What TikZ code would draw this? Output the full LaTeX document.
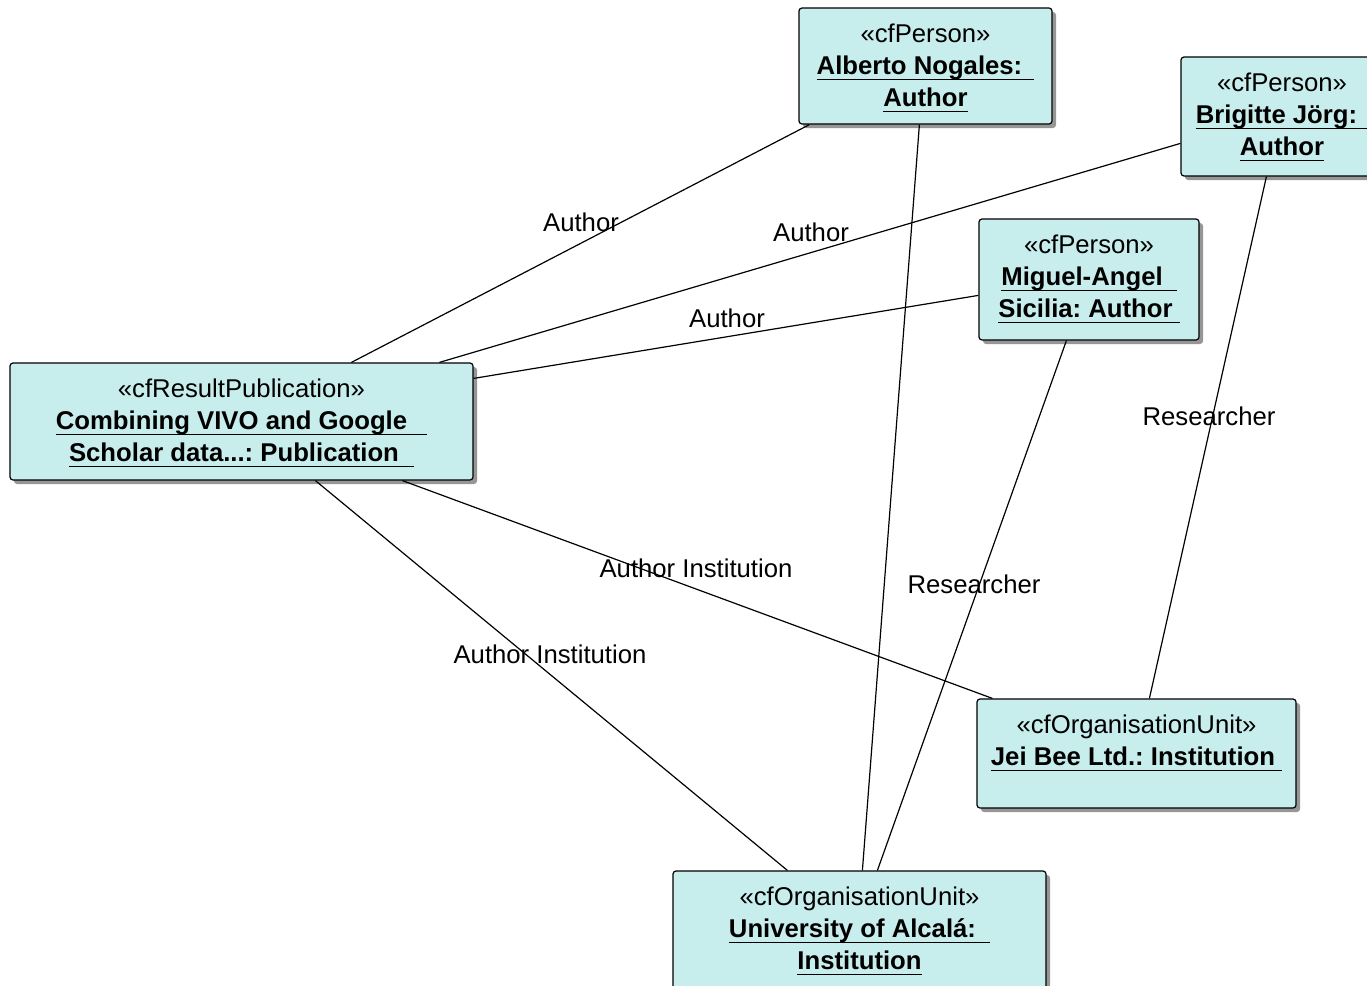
\documentclass[tikz,border=0pt]{standalone}
\usepackage{fontspec}
\setmainfont{Liberation Sans}
\frenchspacing
\usetikzlibrary{calc,shadows}
\definecolor{boxfill}{RGB}{200,237,237}
\definecolor{shadowgray}{RGB}{150,150,150}
\newcommand\ulx[2]{\setbox0\hbox{\bfseries #1\hspace{#2}}\rlap{\rule[-6pt]{\wd0}{1.3pt}}\box0}
\newcommand\firstl{\rule{0pt}{22pt}}
\begin{document}
\begin{tikzpicture}[x=1pt,y=-1pt,
  umlbox/.style={draw=black,line width=1.2pt,fill=boxfill,rounded corners=3pt,
    inner sep=0pt,
    drop shadow={shadow xshift=4pt,shadow yshift=-4pt,fill=shadowgray,opacity=1}},
  boxtext/.style={anchor=north,inner sep=0pt,align=center,
    font=\fontsize{25.7}{32}\selectfont\frenchspacing,yshift=-12.5pt},
  lbl/.style={inner sep=0pt,font=\fontsize{25.7}{32}\selectfont},
  conn/.style={line width=1.2pt,black}]
\useasboundingbox (0,0) rectangle (1367,985);

\node[umlbox,minimum width=253pt,minimum height=116pt] (alb) at (925.5,66) {};
\node[umlbox,minimum width=202pt,minimum height=119pt] (bri) at (1282,116.5) {};
\node[umlbox,minimum width=220pt,minimum height=121pt] (mig) at (1089,279.5) {};
\node[umlbox,minimum width=463pt,minimum height=117pt] (pub) at (241.5,421.5) {};
\node[umlbox,minimum width=319pt,minimum height=109pt] (jei) at (1136.5,753.5) {};
\node[umlbox,minimum width=373pt,minimum height=129pt] (uni) at (859.5,935.5) {};

\node[boxtext] (albt) at (alb.north) {\firstl«cfPerson»\\\ulx{Alberto Nogales:}{12pt}\\\ulx{Author}{0pt}};
\node[boxtext] (brit) at (bri.north) {\firstl«cfPerson»\\\ulx{Brigitte Jörg:}{11pt}\\\ulx{Author}{0pt}};
\node[boxtext] (migt) at (mig.north) {\firstl«cfPerson»\\\ulx{Miguel-Angel}{14pt}\\\ulx{Sicilia: Author}{7pt}};
\node[boxtext] (pubt) at (pub.north) {\firstl«cfResultPublication»\\\ulx{Combining VIVO and Google}{20pt}\\\ulx{Scholar data...: Publication}{15pt}};
\node[boxtext] (jeit) at (jei.north) {\firstl«cfOrganisationUnit»\\\ulx{Jei Bee Ltd.: Institution}{7pt}};
\node[boxtext] (unit) at (uni.north) {\firstl«cfOrganisationUnit»\\\ulx{University of Alcalá:}{14pt}\\\ulx{Institution}{0pt}};

\draw[conn] ($(pub.north west)+(342,0)$) -- ($(alb.south west)+(11,0)$);
\draw[conn] ($(pub.north west)+(430,0)$) -- ($(bri.north west)+(0,87)$);
\draw[conn] ($(pub.north east)+(0,16)$) -- ($(mig.north west)+(0,77)$);
\draw[conn] ($(pub.south west)+(393,0)$) -- ($(jei.north west)+(16,0)$);
\draw[conn] ($(pub.south west)+(306,0)$) -- ($(uni.north west)+(115,0)$);
\draw[conn] ($(alb.south west)+(121,0)$) -- ($(uni.north west)+(190,0)$);
\draw[conn] ($(mig.south west)+(88,0)$) -- ($(uni.north west)+(205,0)$);
\draw[conn] ($(bri.south west)+(86,0)$) -- ($(jei.north west)+(173,0)$);

\node[lbl] (l1) at (581,222) {Author};
\node[lbl] (l2) at (811,232) {Author};
\node[lbl] (l3) at (727,318) {Author};
\node[lbl] (l4) at (696,568) {Author Institution};
\node[lbl] (l5) at (550,654) {Author Institution};
\node[lbl] (l6) at (974,584) {Researcher};
\node[lbl] (l7) at (1209,416) {Researcher};
\end{tikzpicture}
\end{document}
